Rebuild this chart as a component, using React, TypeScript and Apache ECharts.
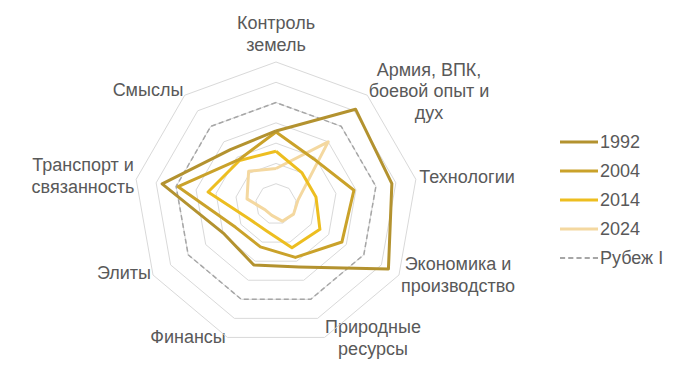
import React, { useEffect, useRef } from "react";
import * as echarts from "echarts";

// Indicators listed clockwise from the top, as in the reference
const indicators = [
  "Контроль земель",
  "Армия, ВПК, боевой опыт и дух",
  "Технологии",
  "Экономика и производство",
  "Природные ресурсы",
  "Финансы",
  "Элиты",
  "Транспорт и связанность",
  "Смыслы",
];

const seriesNames = ["1992", "2004", "2014", "2024", "Рубеж I"];

const values1992 = [3.6, 6.1, 5.8, 6.4, 3.3, 3.2, 2.95, 5.7, 3.5];
const values2004 = [3.55, 2.9, 3.9, 3.75, 2.8, 2.25, 2.3, 4.9, 2.85];
const values2014 = [2.6, 2.0, 2.0, 2.5, 2.3, 1.4, 1.5, 3.4, 2.8];
const values2024 = [1.75, 4.0, 1.1, 1.0, 0.9, 0.6, 0.6, 1.45, 2.1];
const valuesBorder = [5, 5, 5, 5, 5, 5, 5, 5, 5];

const colors = ["#b3922f", "#caa22a", "#edbe20", "#f4d8a0", "#a6a6a6"];

// Label layout (text block centres) for each indicator, same order as indicators
const labelLines = [
  ["Контроль", "земель"],
  ["Армия, ВПК,", "боевой опыт и", "дух"],
  ["Технологии"],
  ["Экономика и", "производство"],
  ["Природные", "ресурсы"],
  ["Финансы"],
  ["Элиты"],
  ["Транспорт и", "связанность"],
  ["Смыслы"],
];
const labelPos = [
  [276, 34],
  [429, 91],
  [467, 177],
  [458, 275],
  [373, 338],
  [188, 337],
  [124, 273],
  [83, 176],
  [148, 90],
];

// ECharts radar goes counter-clockwise; reorder so the picture runs clockwise
const order = [0, 8, 7, 6, 5, 4, 3, 2, 1];
const reorder = (arr: number[]) => order.map((i) => arr[i]);

const FONT = "'Liberation Sans', Arial, sans-serif";
const TEXT = "#595959";

export default function App() {
  const ref = useRef<HTMLDivElement>(null);
  useEffect(() => {
    if (!ref.current) return;
    const chart = echarts.init(ref.current, undefined, { renderer: "svg" });
    const allValues = [values1992, values2004, values2014, values2024, valuesBorder];
    const series = allValues.map((vals, i) => {
      const dashed = i === 4;
      return {
        type: "radar" as const,
        name: seriesNames[i],
        symbol: "none",
        color: colors[i],
        itemStyle: { color: colors[i] },
        lineStyle: {
          color: colors[i],
          width: dashed ? 1.5 : 3,
          type: dashed ? ([5, 3] as any) : "solid",
        },
        z: dashed ? 1 : 10 - i,
        data: [{ name: seriesNames[i], value: reorder(vals) }],
      };
    });
    const graphics = labelLines.map((lines, i) => ({
      type: "text",
      x: labelPos[i][0],
      y: labelPos[i][1],
      style: {
        text: lines.join("\n"),
        fill: TEXT,
        font: `18px ${FONT}`,
        fontSize: 18,
        fontFamily: FONT,
        lineHeight: 21.5,
        align: "center",
        verticalAlign: "middle",
        textAlign: "center",
        textVerticalAlign: "middle",
      },
    }));
    const dashIcon =
      "path://M0,0h5v2h-5zM8,0h5v2h-5zM16,0h5v2h-5zM24,0h5v2h-5zM32,0h5v2h-5z";
    chart.setOption({
      animation: false,
      backgroundColor: "#ffffff",
      legend: {
        orient: "vertical",
        left: 555,
        top: 128,
        itemWidth: 38,
        itemHeight: 3,
        itemGap: 11,
        icon: "rect",
        itemStyle: { borderWidth: 0 },
        textStyle: {
          color: TEXT,
          fontSize: 18,
          fontFamily: FONT,
          lineHeight: 18,
          padding: [0, 0, 0, -3],
        },
        data: [
          { name: "1992", icon: "rect" },
          { name: "2004", icon: "rect" },
          { name: "2014", icon: "rect" },
          { name: "2024", icon: "rect" },
          { name: "Рубеж I", icon: dashIcon },
        ],
      },
      radar: {
        center: [276, 204],
        radius: 142,
        startAngle: 90,
        shape: "polygon",
        splitNumber: 7,
        indicator: order.map((i) => ({ name: indicators[i], min: 0, max: 7 })),
        axisName: { show: false },
        axisLine: { show: false },
        axisTick: { show: false },
        axisLabel: { show: false },
        splitArea: { show: false },
        splitLine: { lineStyle: { color: "#d9d9d9", width: 1 } },
      },
      graphic: graphics,
      series,
    });
    return () => chart.dispose();
  }, []);
  return (
    <div
      ref={ref}
      style={{ position: "fixed", left: 0, top: 0, width: 686, height: 379 }}
    />
  );
}
